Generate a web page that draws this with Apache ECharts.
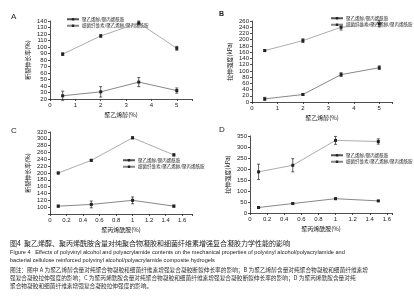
<!DOCTYPE html>
<html>
<head>
<meta charset="utf-8">
<script src="https://cdn.jsdelivr.net/npm/echarts@6/dist/echarts.min.js"></script>
<style>
  html, body { margin: 0; padding: 0; background: #fff; }
  #chart { width: 414px; height: 300px; }
</style>
</head>
<body>
<div id="chart"></div>
<script>
// 横轴取值
const pvaContent = [0.5, 2, 3.5, 5];
const pamContent = [0.1, 0.5, 1.0, 1.5];

// A 断裂伸长率 - 聚乙烯醇
const elongPvaPure = [25, 31, 46, 33];
const elongPvaPureErr = [7, 8, 7, 4];
const elongPvaBc = [89, 117, 137, 98];
const elongPvaBcErr = [2, 2, 3, 3];

// B 拉伸强度 - 聚乙烯醇
const strengthPvaPure = [10, 24, 88, 110];
const strengthPvaPureErr = [5, 3, 6, 6];
const strengthPvaBc = [165, 197, 240, 251];
const strengthPvaBcErr = [3, 6, 9, 10];

// C 断裂伸长率 - 聚丙烯酰胺
const elongPamPure = [103, 108, 120, 103];
const elongPamPureErr = [3, 10, 10, 3];
const elongPamBc = [200, 237, 303, 253];
const elongPamBcErr = [3, 3, 3, 3];

// D 拉伸强度 - 聚丙烯酰胺
const strengthPamPure = [25, 43, 65, 55];
const strengthPamPureErr = [2, 3, 4, 2];
const strengthPamBc = [187, 217, 330, 325];
const strengthPamBcErr = [35, 30, 18, 12];

const nameCN = '聚乙烯醇/聚丙烯酰胺';
const nameBC = '细菌纤维素/聚乙烯醇/聚丙烯酰胺';

const captionLines = [
  '图4  聚乙烯醇、聚丙烯酰胺含量对纯聚合物凝胶和细菌纤维素增强复合凝胶力学性能的影响',
  'Figure 4   Effects of polyvinyl alcohol and polyacrylamide contents on the mechanical properties of polyvinyl alcohol/polyacrylamide and',
  'bacterial cellulose reinforced polyvinyl alcohol/polyacrylamide composite hydrogels',
  '图注：图中 A 为聚乙烯醇含量对纯聚合物凝胶和细菌纤维素增强复合凝胶断裂伸长率的影响；B 为聚乙烯醇含量对纯聚合物凝胶和细菌纤维素增',
  '强复合凝胶拉伸强度的影响；C 为聚丙烯酰胺含量对纯聚合物凝胶和细菌纤维素增强复合凝胶断裂伸长率的影响；D 为聚丙烯酰胺含量对纯',
  '聚合物凝胶和细菌纤维素增强复合凝胶拉伸强度的影响。'
];

const cjk = '"Noto Sans CJK SC", sans-serif';
const latin = '"Liberation Sans", Arial, sans-serif';
const axisColor = '#222';

function pairs(xs, ys) {
  return xs.map((x, k) => [x, ys[k]]);
}
function triples(xs, ys, es) {
  return xs.map((x, k) => [x, ys[k], es[k]]);
}

// 误差棒
function errorBar(idx, xs, ys, es) {
  return {
    type: 'custom',
    xAxisIndex: idx,
    yAxisIndex: idx,
    encode: { x: 0, y: 1 },
    data: triples(xs, ys, es),
    z: 3,
    renderItem: function (params, api) {
      const x = api.value(0), y = api.value(1), e = api.value(2);
      const top = api.coord([x, y + e]);
      const bot = api.coord([x, y - e]);
      const w = 1.5;
      const st = { stroke: '#222', lineWidth: 0.7 };
      return {
        type: 'group',
        children: [
          { type: 'line', shape: { x1: top[0], y1: top[1], x2: bot[0], y2: bot[1] }, style: st },
          { type: 'line', shape: { x1: top[0] - w, y1: top[1], x2: top[0] + w, y2: top[1] }, style: st },
          { type: 'line', shape: { x1: bot[0] - w, y1: bot[1], x2: bot[0] + w, y2: bot[1] }, style: st }
        ]
      };
    }
  };
}

function lineSeries(idx, name, xs, ys, symbol, color) {
  return {
    type: 'line',
    name: name,
    xAxisIndex: idx,
    yAxisIndex: idx,
    data: pairs(xs, ys),
    symbol: symbol,
    symbolSize: 3,
    lineStyle: { color: color, width: 0.7 },
    itemStyle: { color: '#222' },
    z: 4
  };
}

function xAxisOf(idx, name, max, interval, last) {
  return {
    type: 'value',
    gridIndex: idx,
    min: 0,
    max: max,
    interval: interval,
    name: name,
    nameLocation: 'middle',
    nameGap: 13,
    nameTextStyle: { fontFamily: cjk, fontSize: 6, color: '#222' },
    axisLine: { lineStyle: { color: axisColor, width: 0.8 } },
    axisTick: { length: 2, lineStyle: { color: axisColor, width: 0.8 } },
    axisLabel: {
      fontSize: 6, fontFamily: latin, color: '#222', margin: 3,
      formatter: v => (v > last + 0.001 ? '' : String(parseFloat(v.toFixed(1))))
    },
    splitLine: { show: false }
  };
}

function yAxisOf(idx, name, min, max, interval, firstShown) {
  return {
    type: 'value',
    gridIndex: idx,
    min: min,
    max: max,
    interval: interval,
    name: name,
    nameLocation: 'middle',
    nameGap: 19,
    nameTextStyle: { fontFamily: cjk, fontSize: 6, color: '#222' },
    axisLine: { show: true, lineStyle: { color: axisColor, width: 0.8 } },
    axisTick: { show: true, length: 2, lineStyle: { color: axisColor, width: 0.8 } },
    axisLabel: {
      fontSize: 6, fontFamily: latin, color: '#222', margin: 3,
      formatter: v => (v < firstShown ? '' : String(v))
    },
    splitLine: { show: false }
  };
}

function legendOf(left, top) {
  return {
    orient: 'vertical',
    left: left,
    top: top,
    itemWidth: 12,
    itemHeight: 3,
    itemGap: 2,
    padding: 0,
    selectedMode: false,
    textStyle: { fontFamily: cjk, fontSize: 4.5, color: '#333', padding: [0, 0, 0, -2] },
    data: [nameCN, nameBC]
  };
}

const chart = echarts.init(document.getElementById('chart'), null, { renderer: 'canvas' });

const option = {
  backgroundColor: '#fff',
  animation: false,
  grid: [
    { left: 50, top: 21, width: 142, height: 78 },
    { left: 252, top: 21, width: 140, height: 81 },
    { left: 50, top: 132, width: 142, height: 82 },
    { left: 250, top: 136, width: 142, height: 77 }
  ],
  xAxis: [
    xAxisOf(0, '聚乙烯醇(%)', 5.6, 1, 5),
    xAxisOf(1, '聚乙烯醇(%)', 5.5, 1, 5),
    xAxisOf(2, '聚丙烯酰胺(%)', 1.72, 0.2, 1.6),
    xAxisOf(3, '聚丙烯酰胺(%)', 1.66, 0.2, 1.6)
  ],
  yAxis: [
    yAxisOf(0, '断裂伸长率(%)', 20, 140, 10, 20),
    yAxisOf(1, '拉伸强度(kPa)', 0, 260, 20, 0),
    yAxisOf(2, '断裂伸长率(%)', 80, 320, 20, 100),
    yAxisOf(3, '拉伸强度(kPa)', 0, 350, 50, 0)
  ],
  legend: [
    legendOf(66, 17),
    legendOf(330, 16),
    legendOf(122, 158),
    legendOf(330, 153)
  ],
  series: [
    lineSeries(0, nameCN, pvaContent, elongPvaPure, 'rect', '#555'),
    lineSeries(0, nameBC, pvaContent, elongPvaBc, 'rect', '#888'),
    errorBar(0, pvaContent, elongPvaPure, elongPvaPureErr),
    errorBar(0, pvaContent, elongPvaBc, elongPvaBcErr),

    lineSeries(1, nameCN, pvaContent, strengthPvaPure, 'rect', '#555'),
    lineSeries(1, nameBC, pvaContent, strengthPvaBc, 'rect', '#888'),
    errorBar(1, pvaContent, strengthPvaPure, strengthPvaPureErr),
    errorBar(1, pvaContent, strengthPvaBc, strengthPvaBcErr),

    lineSeries(2, nameCN, pamContent, elongPamPure, 'rect', '#555'),
    lineSeries(2, nameBC, pamContent, elongPamBc, 'rect', '#888'),
    errorBar(2, pamContent, elongPamPure, elongPamPureErr),
    errorBar(2, pamContent, elongPamBc, elongPamBcErr),

    lineSeries(3, nameCN, pamContent, strengthPamPure, 'rect', '#555'),
    lineSeries(3, nameBC, pamContent, strengthPamBc, 'rect', '#888'),
    errorBar(3, pamContent, strengthPamPure, strengthPamPureErr),
    errorBar(3, pamContent, strengthPamBc, strengthPamBcErr)
  ],
  graphic: [
    { type: 'text', x: 11, y: 13, style: { text: 'A', font: '8px ' + latin, fill: '#222' } },
    { type: 'text', x: 219, y: 11, style: { text: 'B', font: 'bold 7px ' + latin, fill: '#222' } },
    { type: 'text', x: 11, y: 127, style: { text: 'C', font: '8px ' + latin, fill: '#222' } },
    { type: 'text', x: 219, y: 126, style: { text: 'D', font: '8px ' + latin, fill: '#222' } },

    { type: 'text', x: 10, y: 243, style: { text: captionLines[0], font: '7px ' + cjk, fill: '#222', verticalAlign: 'middle' } },
    { type: 'text', x: 10, y: 252, style: { text: captionLines[1], font: '5.6px ' + latin, fill: '#222', verticalAlign: 'middle' } },
    { type: 'text', x: 10, y: 260, style: { text: captionLines[2], font: '5.6px ' + latin, fill: '#222', verticalAlign: 'middle' } },
    { type: 'text', x: 10, y: 270, style: { text: captionLines[3], font: '5.7px ' + cjk, fill: '#333', verticalAlign: 'middle' } },
    { type: 'text', x: 10, y: 278, style: { text: captionLines[4], font: '5.7px ' + cjk, fill: '#333', verticalAlign: 'middle' } },
    { type: 'text', x: 10, y: 286, style: { text: captionLines[5], font: '5.7px ' + cjk, fill: '#333', verticalAlign: 'middle' } }
  ]
};

chart.setOption(option);
</script>
</body>
</html>
